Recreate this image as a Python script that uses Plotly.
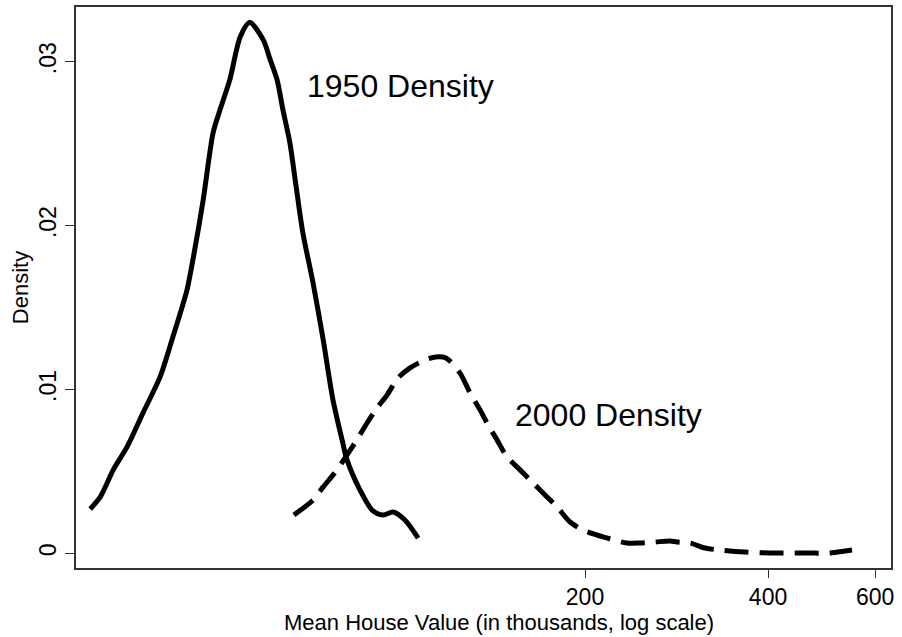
import plotly.graph_objects as go

# Kernel density of mean house value (thousands, log scale)
value_1950 = [30.7, 31.9, 33.5, 35.3, 37.5, 40.0, 42.0, 43.5, 44.3, 45.3, 47.1, 48.9,
              50.2, 52.1, 54.2, 56.2, 59.1, 60.7, 62.3, 63.7, 65.4, 66.9, 68.7, 71.4,
              74.2, 77.0, 79.7, 81.2, 85.3, 89.3, 93.1, 96.7, 101.1, 106.3]
density_1950 = [0.00270, 0.00344, 0.00509, 0.00649, 0.00857, 0.01076, 0.01321, 0.01504,
                0.01607, 0.01791, 0.02157, 0.02566, 0.02706, 0.02890, 0.03152, 0.03238,
                0.03134, 0.03012, 0.02890, 0.02706, 0.02505, 0.02249, 0.01955, 0.01650,
                0.01302, 0.00936, 0.00692, 0.00570, 0.00386, 0.00264, 0.00234, 0.00252,
                0.00203, 0.00093]

value_2000 = [66.4, 71.4, 74.2, 78.2, 80.6, 84.3, 87.6, 91.0, 94.5, 98.5, 103.1, 109.1,
              113.7, 118.1, 124.5, 129.4, 134.4, 138.0, 143.3, 148.9, 156.4, 162.4,
              171.9, 179.9, 189.0, 198.5, 214.1, 234.4, 246.3, 260.7, 276.0, 283.4,
              297.7, 315.1, 333.5, 366.7, 403.1, 451.6, 505.9, 535.4, 549.8]
density_2000 = [0.00234, 0.00325, 0.00405, 0.00509, 0.00582, 0.00692, 0.00795, 0.00887,
                0.00966, 0.01070, 0.01131, 0.01180, 0.01198, 0.01192, 0.01101, 0.00979,
                0.00875, 0.00795, 0.00692, 0.00588, 0.00509, 0.00448, 0.00356, 0.00283,
                0.00191, 0.00142, 0.00100, 0.00063, 0.00063, 0.00069, 0.00075, 0.00069,
                0.00063, 0.00032, 0.00020, 0.00008, 0.00002, 0.00002, 0.00002, 0.00014,
                0.00020]

x_ticks = [200, 400, 600]
y_ticks = [0, 0.01, 0.02, 0.03]
y_ticktext = ["0", ".01", ".02", ".03"]

FONT = "Liberation Sans, Arial, Helvetica, sans-serif"

fig = go.Figure()

fig.add_trace(
    go.Scatter(
        x=value_1950,
        y=density_1950,
        mode="lines",
        line=dict(color="black", width=5, shape="spline", smoothing=0.8),
        showlegend=False,
    )
)

fig.add_trace(
    go.Scatter(
        x=value_2000,
        y=density_2000,
        mode="lines",
        line=dict(color="black", width=5, dash="24px,11px", shape="spline", smoothing=0.8),
        showlegend=False,
    )
)

# Curve labels
fig.add_annotation(x=1.8405, y=0.02850, text="1950 Density", showarrow=False,
                   xanchor="left", yanchor="middle", font=dict(size=32, color="black"))
fig.add_annotation(x=2.1826, y=0.00845, text="2000 Density", showarrow=False,
                   xanchor="left", yanchor="middle", font=dict(size=32, color="black"))

# x-axis title sits a little right of the plot centre in the original
fig.add_annotation(x=0.5196, y=-0.0963, xref="paper", yref="paper",
                   text="Mean House Value (in thousands, log scale)", showarrow=False,
                   xanchor="center", yanchor="middle", font=dict(size=22, color="black"))

fig.update_layout(
    width=902,
    height=637,
    margin=dict(l=76, r=11, t=7, b=69),
    paper_bgcolor="white",
    plot_bgcolor="white",
    font=dict(family=FONT, color="black", size=22),
    xaxis=dict(
        type="log",
        range=[1.4638, 2.8043],
        tickvals=x_ticks,
        ticktext=[str(v) for v in x_ticks],
        ticks="outside",
        ticklen=8,
        tickcolor="#333",
        tickfont=dict(size=23),
        showgrid=False,
        zeroline=False,
        showline=True,
        linecolor="#333",
        linewidth=1.5,
        mirror=True,
        automargin=False,
    ),
    yaxis=dict(
        range=[-0.000897, 0.033333],
        tickvals=y_ticks,
        ticktext=y_ticktext,
        tickangle=-90,
        ticks="outside",
        ticklen=9,
        tickcolor="#333",
        tickfont=dict(size=23),
        showgrid=False,
        zeroline=False,
        showline=True,
        linecolor="#333",
        linewidth=1.5,
        mirror=True,
        automargin=False,
        title=dict(text="Density", font=dict(size=22), standoff=0),
    ),
)

# drop the page's default body margin so the figure sits at the window corner
fig.write_html(
    "out.html",
    config={"displayModeBar": False},
    post_script="document.body.style.margin='0';",
)
